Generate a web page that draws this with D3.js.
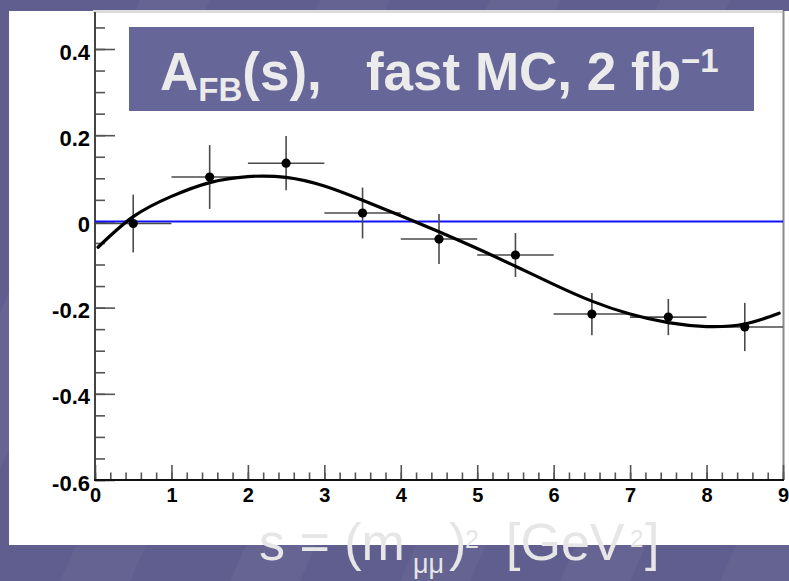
<!DOCTYPE html>
<html><head><meta charset="utf-8">
<script src="https://cdn.jsdelivr.net/npm/d3@7"></script>
<style>
body{margin:0;background:#615f8f;overflow:hidden}
svg{display:block}
</style>
</head><body>
<svg id="chart" width="789" height="581"></svg>
<script>
// ---- data ----
const binCenters  = [0.5, 1.5, 2.5, 3.5, 4.5, 5.5, 6.5, 7.5, 8.5];
const binHalfWidths = [0.5, 0.5, 0.5, 0.5, 0.5, 0.5, 0.5, 0.5, 0.5];
const afbValues   = [-0.005, 0.103, 0.135, 0.0195, -0.041, -0.078, -0.215, -0.222, -0.245];
const afbErrors   = [0.067, 0.074, 0.063, 0.059, 0.058, 0.051, 0.049, 0.042, 0.056];
const fitS = [0.04, 0.5, 1.0, 1.5, 2.0, 2.5, 3.0, 3.5, 4.0, 4.5, 5.0, 5.5, 6.0, 6.5, 7.0, 7.5, 8.0, 8.5, 8.95];
const fitA = [-0.060, 0.011, 0.058, 0.090, 0.104, 0.102, 0.082, 0.049, 0.013, -0.024, -0.063, -0.104, -0.146, -0.185, -0.215, -0.235, -0.244, -0.238, -0.213];
const xTickValues = [0,1,2,3,4,5,6,7,8,9];
const xTickLabels = ["0","1","2","3","4","5","6","7","8","9"];
const yTickValues = [-0.6,-0.4,-0.2,0,0.2,0.4];
const yTickLabels = ["-0.6","-0.4","-0.2","0","0.2","0.4"];

const svg = d3.select("#chart");
const W = 789, H = 581;
const FONT = "'Liberation Sans', Arial, Helvetica, sans-serif";

// ---- background (slide) ----
svg.append("rect").attr("width",W).attr("height",H).attr("fill","#605e8e");
const bands = svg.append("g").attr("fill","#ffffff");
[ -120, 60, 230, 400, 560, 720 ].forEach((bx,i)=>{
  bands.append("path")
    .attr("d",`M${bx},${H} L${bx+70},${H} L${bx+330},0 L${bx+260},0 Z`)
    .attr("opacity", i%2 ? 0.03 : 0.045);
});

// white pad
svg.append("rect").attr("x",9).attr("y",11).attr("width",W-9).attr("height",534).attr("fill","#ffffff");

// ---- scales ----
const x = d3.scaleLinear().domain([0,9]).range([95,783]);
const y = d3.scaleLinear().domain([-0.6,0.4]).range([480,49]);
const yTop = 12;

// frame top & right
svg.append("line").attr("x1",93).attr("x2",783).attr("y1",yTop-0.5).attr("y2",yTop-0.5)
  .attr("stroke","#dcdcdc").attr("stroke-width",3);
svg.append("line").attr("x1",783.5).attr("x2",783.5).attr("y1",yTop-1).attr("y2",480)
  .attr("stroke","#8a8a8a").attr("stroke-width",2);

// ---- axes ----
const minorY = d3.range(-0.6, 0.46, 0.05).map(v=>+v.toFixed(2));
const minorX = d3.range(0, 9.01, 0.2).map(v=>+v.toFixed(2));

const gy = svg.append("g").attr("transform","translate(95,0)");
gy.call(d3.axisLeft(y).tickValues(minorY).tickSizeInner(-10).tickSizeOuter(0).tickFormat(""));
gy.select(".domain").remove();
const gy2 = svg.append("g").attr("transform","translate(95,0)");
gy2.call(d3.axisLeft(y).tickValues(yTickValues).tickSizeInner(-20).tickSizeOuter(0).tickPadding(5)
  .tickFormat((d,i)=>yTickLabels[i]));
gy2.select(".domain").remove();
gy2.selectAll("text").attr("font-family",FONT)
  .attr("font-weight","bold").attr("font-size",22).attr("fill","#000").attr("dy","0.46em");

const gx = svg.append("g").attr("transform","translate(0,480)");
gx.call(d3.axisBottom(x).tickValues(minorX).tickSizeInner(-7.5).tickSizeOuter(0).tickFormat(""));
gx.select(".domain").remove();
const gx2 = svg.append("g").attr("transform","translate(0,480)");
gx2.call(d3.axisBottom(x).tickValues(xTickValues).tickSizeInner(-15).tickSizeOuter(0).tickPadding(8)
  .tickFormat((d,i)=>xTickLabels[i]));
gx2.select(".domain").remove();
gx2.selectAll("text").attr("font-family",FONT)
  .attr("font-weight","bold").attr("font-size",20).attr("fill","#000");
svg.selectAll("g.tick line").attr("stroke","#555").attr("stroke-width",1.6);

// axis lines
svg.append("line").attr("x1",95).attr("x2",95).attr("y1",yTop).attr("y2",481)
  .attr("stroke","#444").attr("stroke-width",2);
svg.append("line").attr("x1",94).attr("x2",784).attr("y1",480).attr("y2",480)
  .attr("stroke","#111").attr("stroke-width",2);

// zero line
svg.append("line").attr("x1",x(0)).attr("x2",x(9)).attr("y1",y(0)).attr("y2",y(0))
  .attr("stroke","#1010ff").attr("stroke-width",2);

// ---- error bars ----
const pts = binCenters.map((c,i)=>({s:c, hw:binHalfWidths[i], a:afbValues[i], e:afbErrors[i]}));
const eb = svg.append("g").attr("stroke","#4a4a4a").attr("stroke-width",1.6);
eb.selectAll("line.h").data(pts).join("line").attr("class","h")
  .attr("x1",d=>x(d.s-d.hw)).attr("x2",d=>x(d.s+d.hw)).attr("y1",d=>y(d.a)).attr("y2",d=>y(d.a));
eb.selectAll("line.v").data(pts).join("line").attr("class","v")
  .attr("x1",d=>x(d.s)).attr("x2",d=>x(d.s)).attr("y1",d=>y(d.a-d.e)).attr("y2",d=>y(d.a+d.e));

// ---- fit curve ----
const fitPts = fitS.map((s,i)=>[s,fitA[i]]);
svg.append("path").datum(fitPts)
  .attr("d", d3.line().x(d=>x(d[0])).y(d=>y(d[1])).curve(d3.curveNatural))
  .attr("fill","none").attr("stroke","#000").attr("stroke-width",3.2).attr("stroke-linecap","round");

// ---- markers ----
svg.append("g").selectAll("circle").data(pts).join("circle")
  .attr("cx",d=>x(d.s)).attr("cy",d=>y(d.a)).attr("r",4.6).attr("fill","#000");

// ---- title box ----
svg.append("rect").attr("x",129).attr("y",27).attr("width",625).attr("height",84).attr("fill","#666699");
const t = svg.append("text").attr("x",160).attr("y",90)
  .attr("font-family",FONT)
  .attr("font-weight","bold").attr("font-size",53).attr("fill","#ebebeb")
  .style("white-space","pre");
t.append("tspan").text("A");
t.append("tspan").attr("font-size",33).attr("dy",11).text("FB");
t.append("tspan").attr("dy",-11).text("(s),   fast MC, 2 fb");
t.append("tspan").attr("font-size",33).attr("dy",-18).text("\u22121");

// ---- x axis title ----
const xt = svg.append("text")
  .attr("font-family",FONT).attr("font-size",52).attr("fill","#e6e6e6").style("white-space","pre");
const base = 560;
xt.append("tspan").attr("x",259).attr("y",base).text("s = (m");
xt.append("tspan").attr("x",413).attr("y",573).attr("font-size",27).text("\u03bc\u03bc");
xt.append("tspan").attr("x",449).attr("y",base).text(")");
xt.append("tspan").attr("x",465).attr("y",548).attr("font-size",25).text("2");
xt.append("tspan").attr("x",506).attr("y",base).text("[GeV");
xt.append("tspan").attr("x",630).attr("y",547).attr("font-size",24).text("2");
xt.append("tspan").attr("x",645).attr("y",base).text("]");
</script>
</body></html>
